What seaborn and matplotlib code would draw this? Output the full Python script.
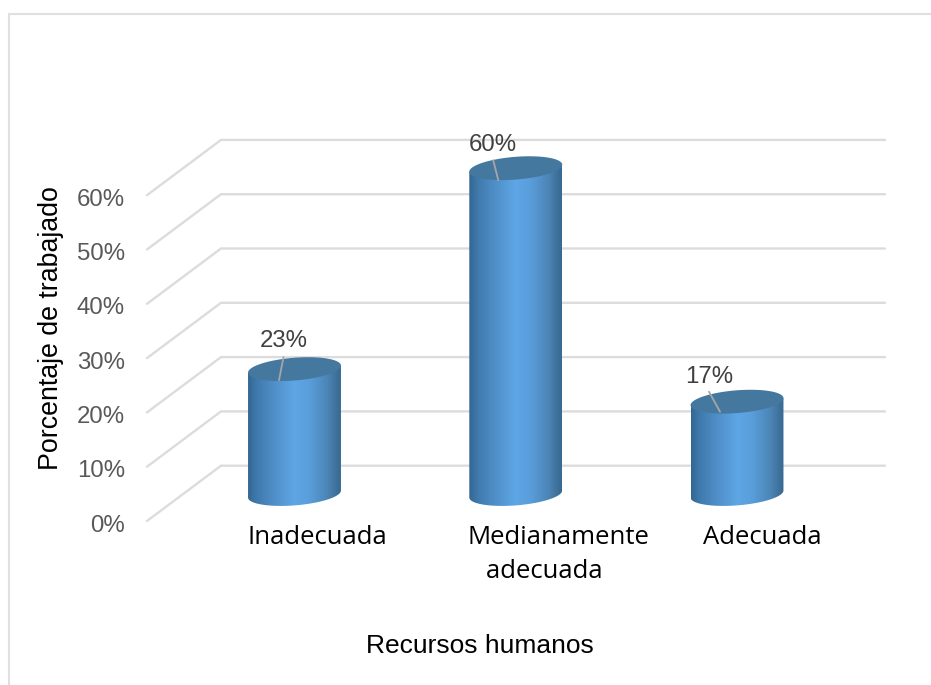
import numpy as np
import pandas as pd
import matplotlib
matplotlib.use("Agg")
import matplotlib.pyplot as plt
from matplotlib.colors import LinearSegmentedColormap
from matplotlib.lines import Line2D
from matplotlib.path import Path
import seaborn as sns

categories = ["Inadecuada", "Medianamente", "Adecuada"]
values = [23, 60, 17]
tick_values = [0, 10, 20, 30, 40, 50, 60]
tick_labels = ["0%", "10%", "20%", "30%", "40%", "50%", "60%"]
xtick_labels = ["Inadecuada", "Medianamente\nadecuada    ", "Adecuada"]

W, H = 931, 685
sns.set_theme(style="white")
plt.rcParams["font.family"] = ["Liberation Sans", "DejaVu Sans"]

fig = plt.figure(figsize=(W / 100, H / 100), dpi=100, facecolor="white")
# pixel layout of the plot region
L, R, T, B = 145, 885, 130, 523
ax = fig.add_axes([L / W, 1 - B / H, (R - L) / W, (B - T) / H])
PX = 5.43        # pixels per percent
ZERO = 494       # pixel row of 0 % in the bar plane
XC, XS = 294.5, 221.25   # first bar centre / spacing in pixels

df = pd.DataFrame({"Nivel": categories, "Porcentaje": values})
sns.barplot(data=df, x="Nivel", y="Porcentaje", width=0.42, color="#5b9bd5",
            ax=ax, zorder=3, legend=False)

xlim = ((L - XC) / XS, (R - XC) / XS)
ylim = ((ZERO - B) / PX, (ZERO - T) / PX)

# walls
fx, bx = (147 - XC) / XS, (221 - XC) / XS
fd, bd = 27 / PX, 28.3 / PX
for v in tick_values:
    ax.plot([fx, bx, xlim[1]], [v - fd, v + bd, v + bd], color="#dcdcdc",
            lw=1.7, zorder=1, clip_on=False, solid_joinstyle="miter")

cmap = LinearSegmentedColormap.from_list("cyl", [
    (0.00, "#336792"), (0.10, "#417bae"), (0.30, "#5191cb"), (0.50, "#5ea6e5"),
    (0.65, "#5a9fdc"), (0.85, "#4d86b8"), (0.96, "#3d7099"), (1.00, "#376a93")])
grad = np.linspace(0, 1, 256).reshape(1, -1)
s, b = 3.5 / PX, 11.4 / PX

leaders = [((-15.5, 11), (-11, -12), (-10.5, -30)),
           ((-17.5, 12), (-22.5, -8), (-22.5, -25)),
           ((-17, 10), (-28, -10), (-28, -26))]

for patch, v, (p0, p1, ptxt) in zip(ax.patches, values, leaders):
    x0, w = patch.get_x(), patch.get_width()
    xc = x0 + w / 2
    patch.set_facecolor("none")
    patch.set_linewidth(0)
    t = np.linspace(np.pi, 2 * np.pi, 80)
    xs = xc + w / 2 * np.cos(t)
    ys = s * np.cos(t) + b * np.sin(t)
    vx = np.r_[xs, x0 + w, x0, xs[0]]
    vy = np.r_[ys, v + s, v - s, ys[0]]
    body = Path(np.c_[vx, vy])
    im = ax.imshow(grad, extent=[x0, x0 + w, -10, 70], aspect="auto", cmap=cmap,
                   interpolation="bilinear", zorder=3)
    im.set_clip_path(body, transform=ax.transData)
    t2 = np.linspace(0, 2 * np.pi, 160)
    ax.fill(xc + w / 2 * np.cos(t2), v + s * np.cos(t2) + b * np.sin(t2),
            color="#45789f", lw=0, zorder=4)
    to_pt = 72 / 100
    ax.plot([xc + p0[0] / XS, xc + p1[0] / XS], [v - p0[1] / PX, v - p1[1] / PX],
            color="#a6a6a6", lw=1.3, zorder=5)
    ax.annotate(f"{v}%", xy=(xc, v), xytext=(ptxt[0] * to_pt, -(ptxt[1] + 1.5) * to_pt),
                textcoords="offset points", ha="center", va="center",
                fontsize=17.3, color="#404040", zorder=6)

ax.set_xlim(*xlim)
ax.set_ylim(*ylim)
ax.set_xticks([(317.5 - XC) / XS, (558 - XC) / XS, (762 - XC) / XS])
ax.set_xticklabels(xtick_labels, fontfamily="Open Sans", fontsize=18.5, color="black",
                   linespacing=1.45)
ax.set_yticks([v - 29 / PX for v in tick_values])
ax.set_yticklabels(tick_labels, fontsize=17.3, color="#595959")
ax.tick_params(axis="x", length=0, pad=1.5)
ax.tick_params(axis="y", length=0, pad=14.4)
ax.set_xlabel("Recursos humanos", fontsize=19, color="black", va="center")
ax.set_ylabel("Porcentaje de trabajado", fontsize=19.3, color="black", va="center")
ax.xaxis.set_label_coords((480 - L) / (R - L), (B - 646) / (B - T))
ax.yaxis.set_label_coords((51 - L) / (R - L), (B - 328) / (B - T))
sns.despine(ax=ax, left=True, bottom=True)
ax.patch.set_alpha(0)

# chart-area border (top and left only are visible in the crop)
fig.add_artist(Line2D([8.8 / W, 8.8 / W], [0, 1 - 14 / H], color="#e0e0e0", lw=1.5))
fig.add_artist(Line2D([8.8 / W, 1], [1 - 14 / H, 1 - 14 / H], color="#e0e0e0", lw=1.5))

fig.savefig("out.png", dpi=100, facecolor="white")
